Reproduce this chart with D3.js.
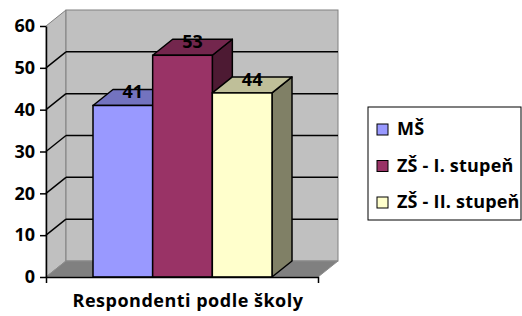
<!DOCTYPE html>
<html>
<head>
<meta charset="utf-8">
<script src="https://cdn.jsdelivr.net/npm/d3@7"></script>
<style>
  body { margin: 0; background: #fff; }
  text { font-family: "Open Sans", Lato, sans-serif; font-weight: bold; fill: #000; }
</style>
</head>
<body>
<div id="chart"></div>
<script>
// data
var categories = ["MŠ", "ZŠ - I. stupeň", "ZŠ - II. stupeň"];
var values = [41, 53, 44];
var colors = ["#9999ff", "#993366", "#ffffcc"];
var yTicks = [0, 10, 20, 30, 40, 50, 60];
var axisTitle = "Respondenti podle školy";

var width = 522, height = 316;
var depth = { dx: 20, dy: -16 };   // 3d offset front -> back

var svg = d3.select("#chart").append("svg")
    .attr("width", width)
    .attr("height", height);

var y = d3.scaleLinear().domain([0, 60]).range([277, 26]);
var xFloor = d3.scaleBand().domain([axisTitle]).range([46, 318]);
var x = d3.scaleBand().domain(categories).range([93, 272]).padding(0);

var x0 = 46, x1 = 318;
var pt = function (a) { return a.join(","); };

// walls
svg.append("polygon")
    .attr("points", [[x0, y(60)], [x0 + depth.dx, y(60) + depth.dy], [x0 + depth.dx, y(0) + depth.dy], [x0, y(0)]].map(pt).join(" "))
    .attr("fill", "#c0c0c0").attr("stroke", "#808080");

svg.append("rect")
    .attr("x", x0 + depth.dx)
    .attr("y", y(60) + depth.dy)
    .attr("width", x1 - x0)
    .attr("height", y(0) - y(60))
    .attr("fill", "#c0c0c0").attr("stroke", "#808080");

svg.append("polygon")
    .attr("points", [[x0, y(0)], [x0 + depth.dx, y(0) + depth.dy], [x1 + depth.dx, y(0) + depth.dy], [x1, y(0)]].map(pt).join(" "))
    .attr("fill", "#808080").attr("stroke", "#8c8c8c");

// gridlines
var grid = yTicks.filter(function (d) { return d > 0 && d < 60; });
svg.selectAll(".gridback").data(grid).enter().append("line")
    .attr("x1", x0 + depth.dx).attr("x2", x1 + depth.dx)
    .attr("y1", function (d) { return y(d) + depth.dy; })
    .attr("y2", function (d) { return y(d) + depth.dy; })
    .attr("stroke", "#000").attr("stroke-width", 1.5);
svg.selectAll(".gridside").data(grid).enter().append("line")
    .attr("x1", x0).attr("x2", x0 + depth.dx)
    .attr("y1", function (d) { return y(d); })
    .attr("y2", function (d) { return y(d) + depth.dy; })
    .attr("stroke", "#000").attr("stroke-width", 1.5);

// bars
var bars = svg.selectAll(".bar")
    .data(categories.map(function (c, i) { return { cat: c, value: values[i], color: colors[i] }; }))
    .enter().append("g").attr("class", "bar");

bars.each(function (d) {
    var g = d3.select(this);
    var l = x(d.cat), r = l + x.bandwidth(), t = y(d.value), b = y(0);
    var c = d3.color(d.color);
    var shade = function (k) { return d3.rgb(c.r * k, c.g * k, c.b * k); };
    g.append("polygon")
        .attr("points", [[r, t], [r + depth.dx, t + depth.dy], [r + depth.dx, b + depth.dy], [r, b]].map(pt).join(" "))
        .attr("fill", shade(0.5)).attr("stroke", "#000").attr("stroke-width", 1.5).attr("stroke-linejoin", "round");
    g.append("polygon")
        .attr("points", [[l, t], [l + depth.dx, t + depth.dy], [r + depth.dx, t + depth.dy], [r, t]].map(pt).join(" "))
        .attr("fill", shade(0.75)).attr("stroke", "#000").attr("stroke-width", 1.5).attr("stroke-linejoin", "round");
    g.append("rect")
        .attr("x", l).attr("y", t)
        .attr("width", r - l).attr("height", b - t)
        .attr("fill", d.color).attr("stroke", "#000").attr("stroke-width", 1.5);
});

bars.append("text")
    .attr("x", function (d) { return x(d.cat) + x.bandwidth() / 2 + depth.dx / 2; })
    .attr("y", function (d) { return y(d.value) + depth.dy / 2 + 1; })
    .attr("text-anchor", "middle")
    .style("font-size", "18px")
    .text(function (d) { return d.value; });

// axes
var yAxis = svg.append("g")
    .attr("transform", "translate(" + x0 + ",0)")
    .call(d3.axisLeft(y).tickValues(yTicks).tickSize(6).tickSizeOuter(0).tickPadding(5));
yAxis.selectAll("path, line").attr("stroke", "#000").attr("stroke-width", 1.5);
yAxis.selectAll("text").style("font-size", "18px").attr("font-family", null);

var xAxis = svg.append("g")
    .attr("transform", "translate(0," + y(0) + ")")
    .call(d3.axisBottom(xFloor).tickValues([]).tickSizeOuter(6));
xAxis.select("path").attr("stroke", "#000").attr("stroke-width", 1.5);

svg.append("text")
    .attr("x", 188)
    .attr("y", 307)
    .attr("text-anchor", "middle")
    .style("font-size", "18px")
    .style("letter-spacing", "0.5px")
    .text(axisTitle);

// legend
var legend = svg.append("g").attr("transform", "translate(368,107)");
legend.append("rect")
    .attr("width", 153).attr("height", 113)
    .attr("fill", "#fff").attr("stroke", "#000");

var item = legend.selectAll(".item").data(categories).enter().append("g")
    .attr("transform", function (d, i) { return "translate(9," + (28 + i * 36.5) + ")"; });
item.append("rect")
    .attr("x", 0).attr("y", -11)
    .attr("width", 11).attr("height", 11)
    .attr("fill", function (d, i) { return colors[i]; })
    .attr("stroke", "#000");
item.append("text")
    .attr("x", 20).attr("y", 0)
    .style("font-size", "18px")
    .style("letter-spacing", "0.2px")
    .text(function (d) { return d; });
</script>
</body>
</html>
